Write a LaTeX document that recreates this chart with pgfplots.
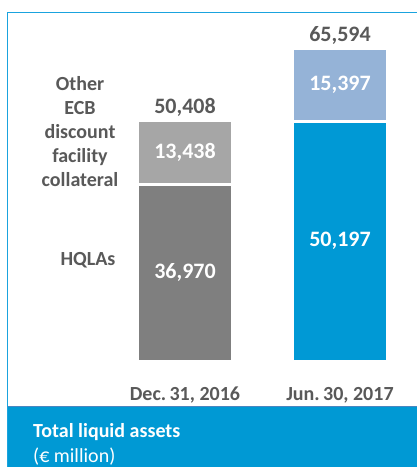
\documentclass[border=0pt]{standalone}
\usepackage{fontspec}
\setmainfont{Carlito}
\usepackage{pgfplots}
\pgfplotsset{compat=1.18}
\pgfkeys{/pgf/number format/.cd, assume math mode=true, 1000 sep={,}}

\definecolor{txtgray}{HTML}{595959}
\definecolor{hqlagray}{HTML}{7F7F7F}
\definecolor{othgray}{HTML}{A6A6A6}
\definecolor{hqlablue}{HTML}{0099D5}
\definecolor{othblue}{HTML}{95B3D7}
\definecolor{framecol}{HTML}{1AA3DE}
\definecolor{footblue}{HTML}{0099D4}
\definecolor{footedge}{HTML}{4A86C0}

\newcommand{\lbl}{\fontsize{20}{24}\selectfont\bfseries}
\newcommand{\num}{\fontsize{22}{26}\selectfont\bfseries}

\begin{document}
\begin{tikzpicture}[x=1pt,y=1pt]
\useasboundingbox (0,0) rectangle (417,467);
\fill[white] (0,0) rectangle (417,467);
\draw[framecol, line width=1.5pt] (7.5,0) -- (7.5,454.5) -- (420,454.5);
\fill[footblue] (7.5,0) rectangle (417,60);
\draw[footedge, line width=1pt] (7.5,60) -- (417,60);

\begin{axis}[
    at={(30pt,106pt)}, anchor=south west,
    scale only axis, width=387.5pt, height=313pt,
    xmin=-1, xmax=1.5, ymin=0, ymax=65594,
    clip=false,
    axis line style={draw=none}, tick style={draw=none},
    ytick=\empty,
    xtick={0,1},
    xticklabels={{Dec.\,31, 2016},{Jun.\,30, 2017}},
    xticklabel style={font=\lbl, text=txtgray, anchor=center, yshift=-30pt},
    ybar, bar width=95pt, bar shift=0pt,
    every node near coord/.append style={font=\num, text=txtgray, anchor=center, yshift=13pt},
]
% totals (other collateral on top)
\addplot[fill=othgray, draw=white, line width=3pt, nodes near coords] coordinates {(0,50408)};
\addplot[fill=othblue, draw=white, line width=3pt, nodes near coords] coordinates {(1,65594)};
% HQLAs
\addplot[fill=hqlagray, draw=white, line width=3pt] coordinates {(0,36970)};
\addplot[fill=hqlablue, draw=white, line width=3pt] coordinates {(1,50197)};

\node[font=\num, text=white] at (axis cs:0,{36970/2}) {\pgfmathprintnumber{36970}};
\node[font=\num, text=white] at (axis cs:0,{36970+13438/2}) {\pgfmathprintnumber{13438}};
\node[font=\num, text=white] at (axis cs:1,{50197/2}) {\pgfmathprintnumber{50197}};
\node[font=\num, text=white] at (axis cs:1,{50197+15397/2}) {\pgfmathprintnumber{15397}};
\end{axis}

\node[font=\lbl, text=txtgray, align=center] at (80,335.5) {Other\\ECB\\discount\\facility\\collateral};
\node[font=\lbl, text=txtgray] at (88,207) {HQLAs};
\node[font=\lbl, text=white, anchor=west, inner sep=0pt] at (33,35) {Total liquid assets};
\node[font=\fontsize{20}{24}\selectfont, text=white, anchor=west, inner sep=0pt] at (33,10) {(€ million)};
\end{tikzpicture}
\end{document}
